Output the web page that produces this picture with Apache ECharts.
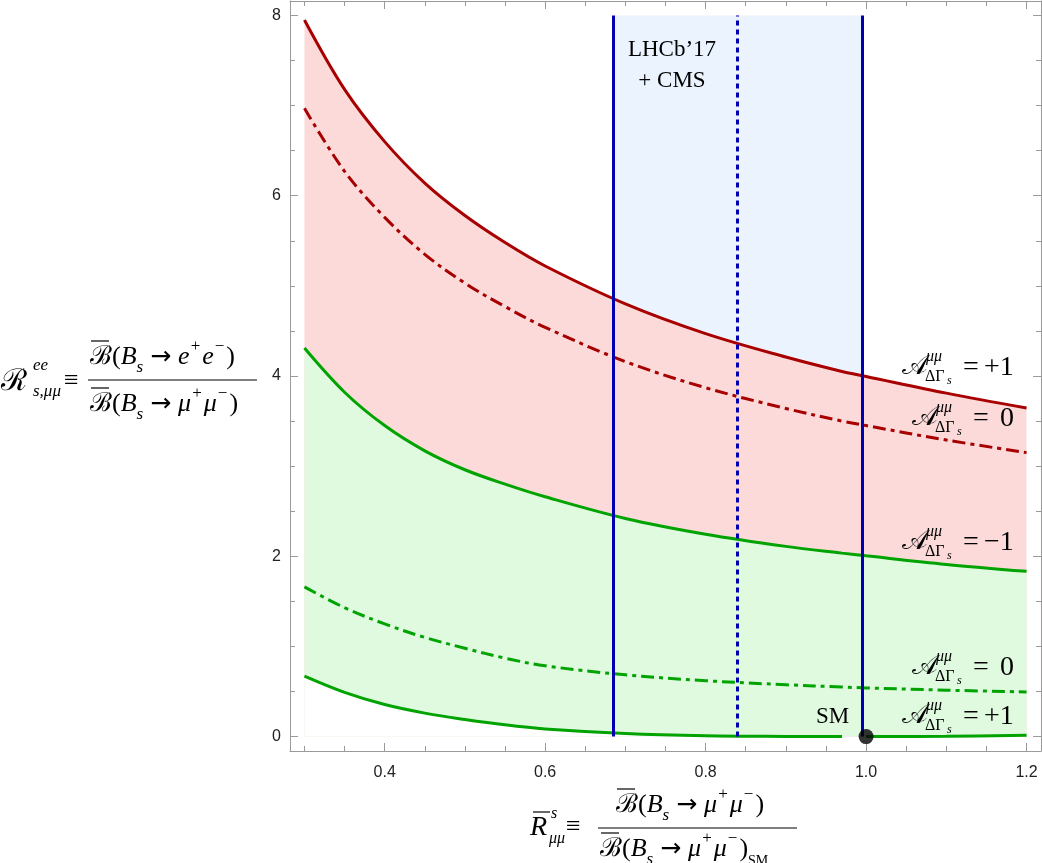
<!DOCTYPE html>
<html>
<head>
<meta charset="utf-8">
<script src="https://cdn.jsdelivr.net/npm/echarts@6/dist/echarts.min.js"></script>
<style>
  html, body { margin: 0; background: #fff; }
  #main { width: 1042px; height: 863px; }
</style>
</head>
<body>
<div id="main"></div>
<script>
// values
const xs = [0.3, 0.35, 0.4, 0.45, 0.5, 0.55, 0.6, 0.7, 0.8, 0.9, 0.97, 1.0, 1.1, 1.2];
const redPlus1    = [7.95, 7.18, 6.60, 6.14, 5.78, 5.48, 5.22, 4.80, 4.47, 4.21, 4.05, 3.995, 3.81, 3.645];
const redZero     = [6.97, 6.27, 5.76, 5.35, 5.03, 4.77, 4.54, 4.16, 3.87, 3.64, 3.50, 3.45, 3.29, 3.15];
const greenMinus1 = [4.31, 3.82, 3.45, 3.17, 2.96, 2.80, 2.66, 2.42, 2.245, 2.11, 2.035, 2.005, 1.91, 1.833];
const greenZero   = [1.66, 1.43, 1.25, 1.10, 0.98, 0.87, 0.785, 0.685, 0.62, 0.575, 0.55, 0.54, 0.515, 0.495];
const greenPlus1  = [0.67, 0.49, 0.355, 0.26, 0.19, 0.13, 0.085, 0.035, 0.01, 0.002, 0.0, 0.0, 0.004, 0.014];
const smPoint = [1.0, 0.0];
const smGap = 0.985;                 // the A=+1 line is broken just left of the SM point
const lhcb = [0.685, 0.995];         // LHCb'17 + CMS band
const lhcbCentral = 0.84;
const bandY = [0, 8];

const xMajor = [0.4, 0.6, 0.8, 1.0, 1.2];
const xMinor = [0.3, 0.35, 0.45, 0.5, 0.55, 0.65, 0.7, 0.75, 0.85, 0.9, 0.95, 1.05, 1.1, 1.15];
const yMajor = [0, 2, 4, 6, 8];
const yMinor = [0.5, 1, 1.5, 2.5, 3, 3.5, 4.5, 5, 5.5, 6.5, 7, 7.5];

const RED = '#a80000', GREEN = '#00a300', BLUE = '#0000b0';
const FRAME = '#9a9a9a';
const SERIF = "'Liberation Serif','DejaVu Serif',serif";

const chart = echarts.init(document.getElementById('main'));

function pts(ys) { return xs.map((x, i) => [x, ys[i]]); }

function fill(ys, color) {
  return { type: 'line', data: pts(ys), smooth: 0.35, showSymbol: false, silent: true,
    lineStyle: { width: 0 }, areaStyle: { color: color, opacity: 1 }, z: 2 };
}
function curve(data, color, type) {
  return { type: 'line', data: data, smooth: 0.35, showSymbol: false, silent: true,
    lineStyle: { color: color, width: 3, type: type || 'solid' }, z: 3 };
}

function axis(dim, grid, pos, ticks, len, labels, line) {
  return {
    type: 'value', gridIndex: grid, position: pos,
    min: dim === 'x' ? 0.282 : -0.16, max: dim === 'x' ? 1.218 : 8.16,
    splitLine: { show: false },
    axisLine: { show: line, onZero: false, lineStyle: { color: FRAME, width: 1 } },
    axisTick: { show: true, inside: true, length: len, customValues: ticks, lineStyle: { color: FRAME } },
    axisLabel: { show: labels, customValues: ticks, fontSize: 16, color: '#222',
      fontFamily: "'Liberation Sans', Arial, sans-serif",
      margin: dim === 'x' ? 14 : 9,
      formatter: dim === 'x' ? (v => v.toFixed(1)) : (v => String(v)) }
  };
}

// greenPlus1 line with its small gap before the SM point
const greenPlus1Line = [];
xs.forEach((x, i) => {
  if (x > smGap && greenPlus1Line.length && greenPlus1Line[greenPlus1Line.length - 1][0] < smGap) {
    greenPlus1Line.push([smGap, '-']);
  }
  greenPlus1Line.push([x, greenPlus1[i]]);
});

const option = {
  animation: false,
  backgroundColor: '#fff',
  grid: [
    { left: 290, right: 1, top: 1, bottom: 112 },
    { left: 290, right: 1, top: 1, bottom: 112 }
  ],
  xAxis: [
    axis('x', 0, 'bottom', xMajor, 8, true, true),
    axis('x', 0, 'top', xMajor, 8, false, true),
    axis('x', 1, 'bottom', xMinor, 5, false, false),
    axis('x', 1, 'top', xMinor, 5, false, false)
  ],
  yAxis: [
    axis('y', 0, 'left', yMajor, 8, true, true),
    axis('y', 0, 'right', yMajor, 8, false, true),
    axis('y', 1, 'left', yMinor, 5, false, false),
    axis('y', 1, 'right', yMinor, 5, false, false)
  ],
  series: [
    { type: 'line', data: [], z: 1,
      markArea: { silent: true, itemStyle: { color: '#ebf4fe' },
        data: [[{ coord: [lhcb[0], bandY[0]] }, { coord: [lhcb[1], bandY[1]] }]] } },
    fill(redPlus1, '#fcdada'),
    fill(greenMinus1, '#e0fae0'),
    fill(greenPlus1, '#ffffff'),
    curve(pts(redPlus1), RED),
    curve(pts(redZero), RED, [13, 5, 4, 5]),
    curve(pts(greenMinus1), GREEN),
    curve(pts(greenZero), GREEN, [13, 5, 4, 5]),
    curve(greenPlus1Line, GREEN),
    { type: 'scatter', data: [smPoint], symbolSize: 15, itemStyle: { color: '#000' }, z: 6, silent: true,
      markLine: { silent: true, symbol: 'none', label: { show: false }, z: 5,
        lineStyle: { color: BLUE, width: 3, type: 'solid' },
        data: [
          [{ coord: [lhcb[0], bandY[0]] }, { coord: [lhcb[0], bandY[1]] }],
          [{ coord: [lhcb[1], bandY[0]] }, { coord: [lhcb[1], bandY[1]] }],
          [{ coord: [lhcbCentral, bandY[0]], lineStyle: { type: [5, 4] } }, { coord: [lhcbCentral, bandY[1]] }]
        ] } }
  ]
};
chart.setOption(option);

// ---- annotations (text) ----
function tx(x, y, text, size, o) {
  o = o || {};
  return { type: 'text', x: x, y: y, silent: true, z: 10,
    style: { text: text, fontSize: size, fontFamily: SERIF, fontStyle: o.italic ? 'italic' : 'normal',
      fill: '#000', textAlign: o.align || 'left', textVerticalAlign: 'middle', rich: o.rich } };
}
function hline(x1, x2, y, w) {
  return { type: 'line', silent: true, z: 10, shape: { x1: x1, y1: y, x2: x2, y2: y },
    style: { stroke: '#000', lineWidth: w || 1.2 } };
}
function aLabel(x, y, rhs) {
  return { type: 'group', x: x, y: y, children: [
    tx(0, 0, '𝒜', 27),
    tx(24, -10, 'μμ', 16, { italic: true }),
    tx(23, 10, 'ΔΓ', 16),
    tx(45, 14, 's', 12, { italic: true }),
    tx(61, 1, '=', 28),
    tx(rhs.length > 1 ? 82 : 88, 1, rhs, 28)
  ] };
}
const rich = {
  n: { fontSize: 26, fontFamily: SERIF, lineHeight: 38 },
  i: { fontSize: 26, fontFamily: SERIF, fontStyle: 'italic', lineHeight: 38 },
  ar: { fontSize: 25, fontFamily: "'DejaVu Sans', sans-serif", lineHeight: 38, padding: [0, 7, 0, 7] },
  sub: { fontSize: 17, fontFamily: SERIF, fontStyle: 'italic', lineHeight: 28, verticalAlign: 'bottom' },
  subr: { fontSize: 14, fontFamily: SERIF, lineHeight: 28, verticalAlign: 'bottom' },
  sup: { fontSize: 17, fontFamily: SERIF, lineHeight: 20, verticalAlign: 'top', padding: [0, 2, 0, 1] }
};
const fracEE = '{n|ℬ(}{i|B}{sub|s}{ar|→}{i|e}{sup|+}{i|e}{sup|−}{n|)}';
const fracMM = '{n|ℬ(}{i|B}{sub|s}{ar|→}{i|μ}{sup|+}{i|μ}{sup|−}{n|)}';
const fracSM = '{n|ℬ(}{i|B}{sub|s}{ar|→}{i|μ}{sup|+}{i|μ}{sup|−}{n|)}{subr|SM}';

chart.setOption({
  graphic: [
    tx(672, 50, 'LHCb’17', 23, { align: 'center' }),
    tx(672, 81, '+ CMS', 23, { align: 'center' }),
    aLabel(902, 367, '+1'),
    aLabel(912, 418, '0'),
    aLabel(902, 542, '−1'),
    aLabel(912, 667, '0'),
    aLabel(902, 716, '+1'),
    tx(816, 717, 'SM', 23),
    // y-axis title
    tx(1, 382, 'ℛ', 30),
    tx(33, 366, 'ee', 17, { italic: true }),
    tx(33, 392, 's,μμ', 17, { italic: true }),
    tx(64, 381, '≡', 26),
    hline(88, 257, 380),
    tx(90, 357, fracEE, 26, { rich: rich }),
    tx(90, 404, fracMM, 26, { rich: rich }),
    hline(91, 109, 341), hline(91, 109, 388),
    // x-axis title
    tx(530, 828, 'R', 28, { italic: true }),
    hline(533, 550, 812),
    tx(551, 814, 's', 16, { italic: true }),
    tx(549, 839, 'μμ', 16, { italic: true }),
    tx(566, 827, '≡', 26),
    hline(598, 797, 828),
    tx(616, 805, fracMM, 26, { rich: rich }),
    tx(600, 849, fracSM, 26, { rich: rich }),
    hline(617, 635, 789), hline(601, 619, 833)
  ]
});
</script>
</body>
</html>
